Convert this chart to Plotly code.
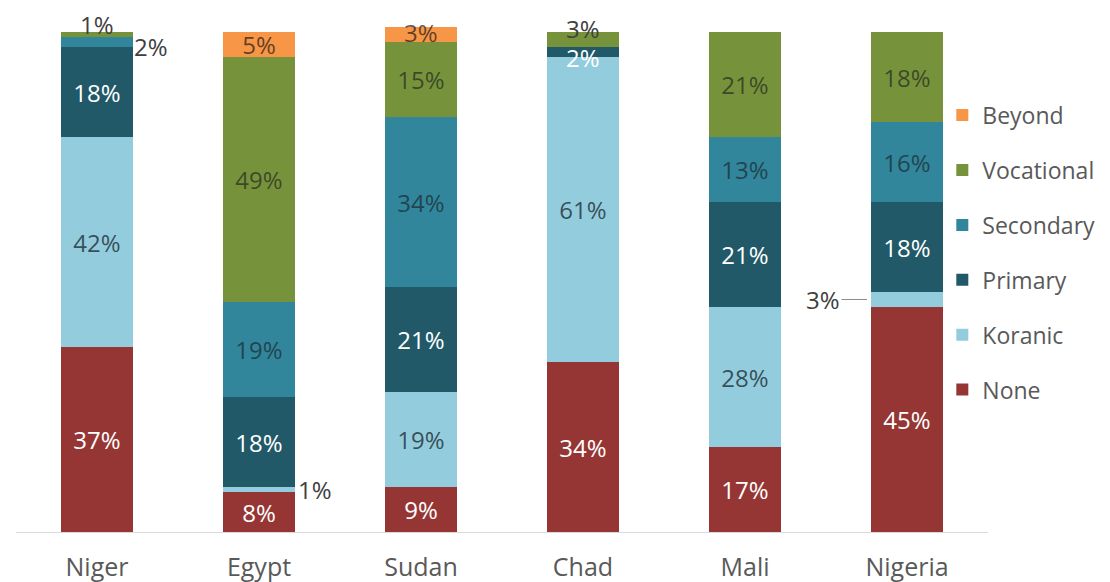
import plotly.graph_objects as go

countries = ["Niger", "Egypt", "Sudan", "Chad", "Mali", "Nigeria"]
none_vals = [37, 8, 9, 34, 17, 45]
koranic_vals = [42, 1, 19, 61, 28, 3]
primary_vals = [18, 18, 21, 2, 21, 18]
secondary_vals = [2, 19, 34, 0, 13, 16]
vocational_vals = [1, 49, 15, 3, 21, 18]
beyond_vals = [0, 5, 3, 0, 0, 0]

series = [
    ("None", none_vals, "#963634", "white"),
    ("Koranic", koranic_vals, "#93CDDD", "rgba(30,45,55,0.8)"),
    ("Primary", primary_vals, "#215968", "white"),
    ("Secondary", secondary_vals, "#31869B", "rgba(30,45,55,0.75)"),
    ("Vocational", vocational_vals, "#76933C", "rgba(35,40,30,0.7)"),
    ("Beyond", beyond_vals, "#F79646", "rgba(50,35,25,0.75)"),
]

# segments labelled separately (series name, country) -> (xshift, yshift, font colour, arrow)
special = {
    ("Vocational", "Niger"): (0, 10, "#404040", False),
    ("Secondary", "Niger"): (54, -4, "#404040", False),
    ("Koranic", "Egypt"): (56, 0, "#404040", False),
    ("Koranic", "Nigeria"): (None, None, "#404040", True),
    ("Primary", "Chad"): (0, -5, "white", False),
    ("Vocational", "Chad"): (0, 11, "#404040", False),
    ("Beyond", "Sudan"): (0, 2, "rgba(50,35,25,0.75)", False),
}

FONT = "Open Sans, Noto Sans, sans-serif"
LBL = 24
fig = go.Figure()
annotations = []
cum = [0] * len(countries)
n_series = len(series)
for k, (name, vals, color, tcol) in enumerate(series):
    texts = []
    for i, v in enumerate(vals):
        if v == 0 or (name, countries[i]) in special:
            texts.append("")
        else:
            texts.append(f"{v}%")
    fig.add_trace(go.Bar(
        x=countries, y=vals, name=name, legendgroup=name,
        legendrank=n_series - k,
        marker=dict(color=color, line=dict(width=0)),
        text=texts, textposition="inside", insidetextanchor="middle",
        textfont=dict(color=tcol, size=LBL, family=FONT),
        hoverinfo="skip",
    ))
    for i, v in enumerate(vals):
        key = (name, countries[i])
        if key in special and v > 0:
            xs, ys, fc, arrow = special[key]
            mid = cum[i] + v / 2
            if arrow:
                annotations.append(dict(
                    x=countries[i], y=mid, xref="x", yref="y",
                    text=f"{v}%", showarrow=True, arrowhead=0, arrowwidth=1,
                    arrowcolor="#8c8c8c", ax=-84, ay=0,
                    standoff=40, font=dict(size=LBL, color=fc, family=FONT),
                ))
            else:
                annotations.append(dict(
                    x=countries[i], y=mid, xref="x", yref="y",
                    text=f"{v}%", showarrow=False, xshift=xs, yshift=ys,
                    font=dict(size=LBL, color=fc, family=FONT),
                ))
        cum[i] += v

fig.update_layout(
    barmode="stack",
    bargap=0.556,
    width=1110, height=582,
    margin=dict(l=8, r=130, t=19, b=58, autoexpand=False),
    plot_bgcolor="white", paper_bgcolor="white",
    uniformtext=dict(minsize=LBL, mode="show"),
    annotations=annotations,
    showlegend=True,
    legend=dict(
        x=0.953, y=0.868, xanchor="left", yanchor="top",
        traceorder="grouped", tracegroupgap=22,
        font=dict(size=23, color="#595959", family=FONT),
        itemwidth=30, bgcolor="rgba(0,0,0,0)",
    ),
    xaxis=dict(
        showline=True, linecolor="#D9D9D9", linewidth=1,
        showgrid=False, ticks="", ticklabelstandoff=13, automargin=False,
        tickfont=dict(size=25, color="#595959", family=FONT),
    ),
    yaxis=dict(range=[0, 101], visible=False, showgrid=False, automargin=False),
)

fig.write_html("out.html")
